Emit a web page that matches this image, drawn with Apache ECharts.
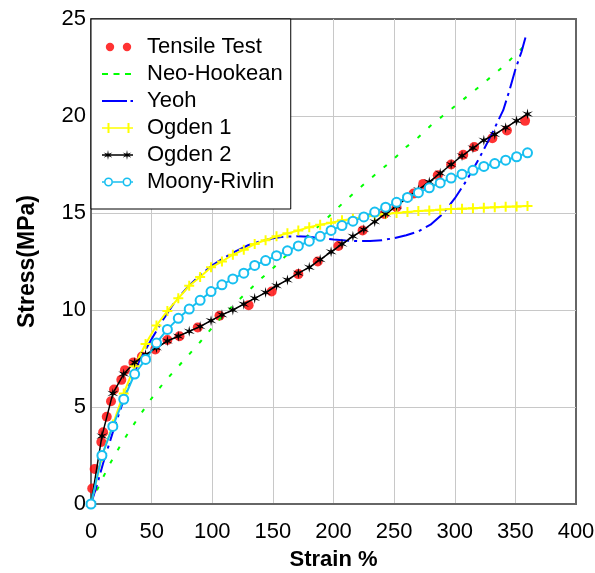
<!DOCTYPE html>
<html>
<head>
<meta charset="utf-8">
<script src="https://cdn.jsdelivr.net/npm/echarts@6/dist/echarts.min.js"></script>
<style>
  html, body { margin: 0; padding: 0; background: #fff; }
  #main { width: 595px; height: 573px; }
</style>
</head>
<body>
<div id="main"></div>
<script>
// 数据
var tensileStrain = [1, 3, 8.5, 10, 13, 16.5, 19, 25, 28, 35, 42, 53, 63, 73, 88, 106, 130, 149, 171, 187, 204, 224, 242, 252, 266, 274, 286, 297, 307, 316, 331, 343, 358];
var tensileStress = [0.8, 1.8, 3.2, 3.7, 4.5, 5.3, 5.9, 6.4, 6.9, 7.3, 7.6, 7.97, 8.45, 8.65, 9.1, 9.7, 10.25, 10.95, 11.85, 12.5, 13.3, 14.1, 14.95, 15.3, 16.0, 16.5, 16.95, 17.5, 18.0, 18.4, 18.85, 19.25, 19.75];

var neoStrain = [0, 5, 10, 15, 20, 25, 30, 40, 50, 60, 70, 80, 90, 100, 110, 120, 130, 140, 150, 160, 170, 180, 190, 200, 210, 220, 230, 240, 250, 260, 270, 280, 290, 300, 320, 340, 358];
var neoStress = [0, 0.72, 1.38, 2.0, 2.55, 3.1, 3.6, 4.55, 5.45, 6.25, 6.95, 7.65, 8.35, 9.1, 9.8, 10.4, 11.0, 11.6, 12.15, 12.75, 13.35, 13.9, 14.45, 15.05, 15.65, 16.2, 16.75, 17.27, 17.8, 18.4, 18.9, 19.5, 20.0, 20.5, 21.5, 22.55, 23.65];

var yeohStrain = [0, 5, 10, 15, 20, 25, 30, 40, 50, 60, 70, 80, 90, 100, 110, 120, 130, 140, 150, 160, 170, 180, 190, 200, 210, 220, 230, 240, 250, 260, 270, 280, 290, 300, 310, 320, 330, 340, 345, 350, 355, 359];
var yeohStress = [0, 1.0, 2.1, 3.1, 4.1, 5.0, 5.9, 7.4, 8.5, 9.55, 10.5, 11.2, 11.8, 12.3, 12.7, 13.05, 13.35, 13.55, 13.7, 13.78, 13.8, 13.77, 13.7, 13.63, 13.58, 13.55, 13.56, 13.6, 13.7, 13.85, 14.05, 14.4, 14.95, 15.75, 16.7, 17.8, 19.0, 20.3, 21.3, 22.4, 23.3, 24.2];

// Ogden 1, Ogden 2, Moony-Rivlin share the same strain points
var modelStrain = [0, 9, 18, 27, 36, 45, 54, 63, 72, 81, 90, 99, 108, 117, 126, 135, 144, 153, 162, 171, 180, 189, 198, 207, 216, 225, 234, 243, 252, 261, 270, 279, 288, 297, 306, 315, 324, 333, 342, 351, 360];
var ogden1Stress = [0, 2.45, 4.1, 5.7, 7.1, 8.25, 9.2, 9.95, 10.6, 11.25, 11.7, 12.2, 12.5, 12.85, 13.1, 13.4, 13.6, 13.8, 13.95, 14.1, 14.27, 14.4, 14.5, 14.62, 14.7, 14.8, 14.87, 14.95, 15.0, 15.05, 15.1, 15.13, 15.17, 15.2, 15.22, 15.24, 15.27, 15.3, 15.32, 15.34, 15.36];
var ogden2Stress = [0, 3.5, 5.7, 6.7, 7.3, 7.7, 8.05, 8.4, 8.65, 8.9, 9.15, 9.45, 9.75, 10.0, 10.3, 10.6, 10.9, 11.25, 11.55, 11.9, 12.2, 12.6, 13.0, 13.4, 13.8, 14.15, 14.55, 14.95, 15.35, 15.8, 16.2, 16.6, 17.05, 17.5, 17.95, 18.35, 18.75, 19.05, 19.4, 19.75, 20.1];
var moonyStress = [0, 2.5, 4.0, 5.4, 6.7, 7.45, 8.3, 9.0, 9.57, 10.05, 10.5, 10.95, 11.3, 11.6, 11.9, 12.3, 12.55, 12.8, 13.05, 13.3, 13.55, 13.8, 14.1, 14.35, 14.58, 14.8, 15.05, 15.3, 15.55, 15.8, 16.05, 16.3, 16.55, 16.8, 17.0, 17.2, 17.4, 17.55, 17.72, 17.9, 18.1];

var seriesNames = ['Tensile Test', 'Neo-Hookean', 'Yeoh', 'Ogden 1', 'Ogden 2', 'Moony-Rivlin'];
var xTicks = [0, 400, 50];
var yTicks = [0, 25, 5];

function pairs(xs, ys) {
    var out = [];
    for (var i = 0; i < xs.length; i++) {
        out.push([xs[i], ys[i]]);
    }
    return out;
}

var font = "'Liberation Sans', Arial, sans-serif";
// markers
var starPath = 'path://M10,0L11.4,7.58L18.66,5L12.8,10L18.66,15L11.4,12.42L10,20L8.6,12.42L1.34,15L7.2,10L1.34,5L8.6,7.58Z';
var plusPath = 'path://M4,0H6V4H10V6H6V10H4V6H0V4H4Z';
// legend icons, 40x14 box
var box = 'M0,0L0,0M40,14L40,14';
var legendIcons = [
    'path://' + box + 'M3.8,7A4.2,4.2 0 1,1 12.2,7A4.2,4.2 0 1,1 3.8,7ZM20.8,7A4.2,4.2 0 1,1 29.2,7A4.2,4.2 0 1,1 20.8,7Z',
    'path://' + box + 'M0,6H6V8H0ZM11.5,6H17.5V8H11.5ZM23,6H29V8H23Z',
    'path://' + box + 'M0,6H25V8H0ZM28.5,6H31V8H28.5Z',
    'path://' + box + 'M0,6.2H31V7.8H0ZM5.5,2H7.5V12H5.5ZM25.5,2H27.5V12H25.5Z',
    'path://' + box + 'M0,6.2H31V7.8H0Z' +
        'M6,2L6.7,5.79L10.33,4.5L7.4,7L10.33,9.5L6.7,8.21L6,12L5.3,8.21L1.67,9.5L4.6,7L1.67,4.5L5.3,5.79Z' +
        'M25,2L25.7,5.79L29.33,4.5L26.4,7L29.33,9.5L25.7,8.21L25,12L24.3,8.21L20.67,9.5L23.6,7L20.67,4.5L24.3,5.79Z',
    'path://' + box + 'M0,6.2H2V7.8H0ZM11,6.2H20.5V7.8H11ZM29.5,6.2H31V7.8H29.5Z' +
        'M2,7A4.5,4.5 0 1,1 11,7A4.5,4.5 0 1,1 2,7ZM3.6,7A2.9,2.9 0 1,0 9.4,7A2.9,2.9 0 1,0 3.6,7Z' +
        'M20.5,7A4.5,4.5 0 1,1 29.5,7A4.5,4.5 0 1,1 20.5,7ZM22.1,7A2.9,2.9 0 1,0 27.9,7A2.9,2.9 0 1,0 22.1,7Z'
];

var legendData = [];
for (var i = 0; i < seriesNames.length; i++) {
    legendData.push({ name: seriesNames[i], icon: legendIcons[i], itemStyle: { borderWidth: 0 } });
}

var myChart = echarts.init(document.getElementById('main'));

var option = {
    animation: false,
    backgroundColor: '#fff',
    grid: {
        left: 91, right: 19, top: 19, bottom: 69,
        outerBoundsMode: 'none',
        show: true,
        borderColor: '#666',
        borderWidth: 2
    },
    legend: {
        left: 91,
        top: 19,
        orient: 'vertical',
        data: legendData,
        itemWidth: 40,
        itemHeight: 14,
        itemGap: 5,
        padding: [17, 8, 16, 11],
        backgroundColor: '#fff',
        borderColor: '#000',
        borderWidth: 1,
        borderRadius: 0,
        selectedMode: false,
        textStyle: { fontFamily: font, fontSize: 22, color: '#000', lineHeight: 21 }
    },
    xAxis: {
        type: 'value',
        min: xTicks[0], max: xTicks[1], interval: xTicks[2],
        name: 'Strain %',
        nameLocation: 'middle',
        nameGap: 45,
        nameTextStyle: { fontFamily: font, fontSize: 22, fontWeight: 'bold', color: '#000' },
        axisLine: { show: true, lineStyle: { color: '#666', width: 2 } },
        axisTick: { show: false },
        axisLabel: { margin: 17, fontFamily: font, fontSize: 22, color: '#000' },
        splitLine: { show: true, showMaxLine: false, lineStyle: { color: '#c8c8c8', width: 1 } }
    },
    yAxis: {
        type: 'value',
        min: yTicks[0], max: yTicks[1], interval: yTicks[2],
        name: 'Stress(MPa)',
        nameLocation: 'middle',
        nameGap: 52,
        nameTextStyle: { fontFamily: font, fontSize: 23, fontWeight: 'bold', color: '#000' },
        axisLine: { show: true, lineStyle: { color: '#666', width: 2 } },
        axisTick: { show: false },
        axisLabel: { margin: 5, fontFamily: font, fontSize: 22, color: '#000' },
        splitLine: { show: true, showMaxLine: false, lineStyle: { color: '#c8c8c8', width: 1 } }
    },
    series: [
        {
            name: seriesNames[0],
            type: 'scatter',
            symbol: 'circle',
            symbolSize: 10,
            itemStyle: { color: '#ff0000' },
            data: pairs(tensileStrain, tensileStress)
        },
        {
            name: seriesNames[1],
            type: 'line',
            showSymbol: false,
            lineStyle: { color: '#00ff00', width: 2, type: [4, 11] },
            itemStyle: { color: '#00ff00' },
            data: pairs(neoStrain, neoStress)
        },
        {
            name: seriesNames[2],
            type: 'line',
            showSymbol: false,
            lineStyle: { color: '#0000ff', width: 2, type: [20, 5, 3, 5] },
            itemStyle: { color: '#0000ff' },
            data: pairs(yeohStrain, yeohStress)
        },
        {
            name: seriesNames[3],
            type: 'line',
            symbol: plusPath,
            symbolSize: 10,
            showAllSymbol: true,
            lineStyle: { color: '#ffff00', width: 2 },
            itemStyle: { color: '#ffff00' },
            data: pairs(modelStrain, ogden1Stress)
        },
        {
            name: seriesNames[4],
            type: 'line',
            symbol: starPath,
            symbolSize: 11,
            showAllSymbol: true,
            lineStyle: { color: '#000', width: 1.5 },
            itemStyle: { color: '#000' },
            data: pairs(modelStrain, ogden2Stress)
        },
        {
            name: seriesNames[5],
            type: 'line',
            symbol: 'emptyCircle',
            symbolSize: 9,
            showAllSymbol: true,
            lineStyle: { color: '#17bff0', width: 2 },
            itemStyle: { color: '#17bff0', borderWidth: 2 },
            data: pairs(modelStrain, moonyStress)
        }
    ]
};

myChart.setOption(option);
</script>
</body>
</html>
